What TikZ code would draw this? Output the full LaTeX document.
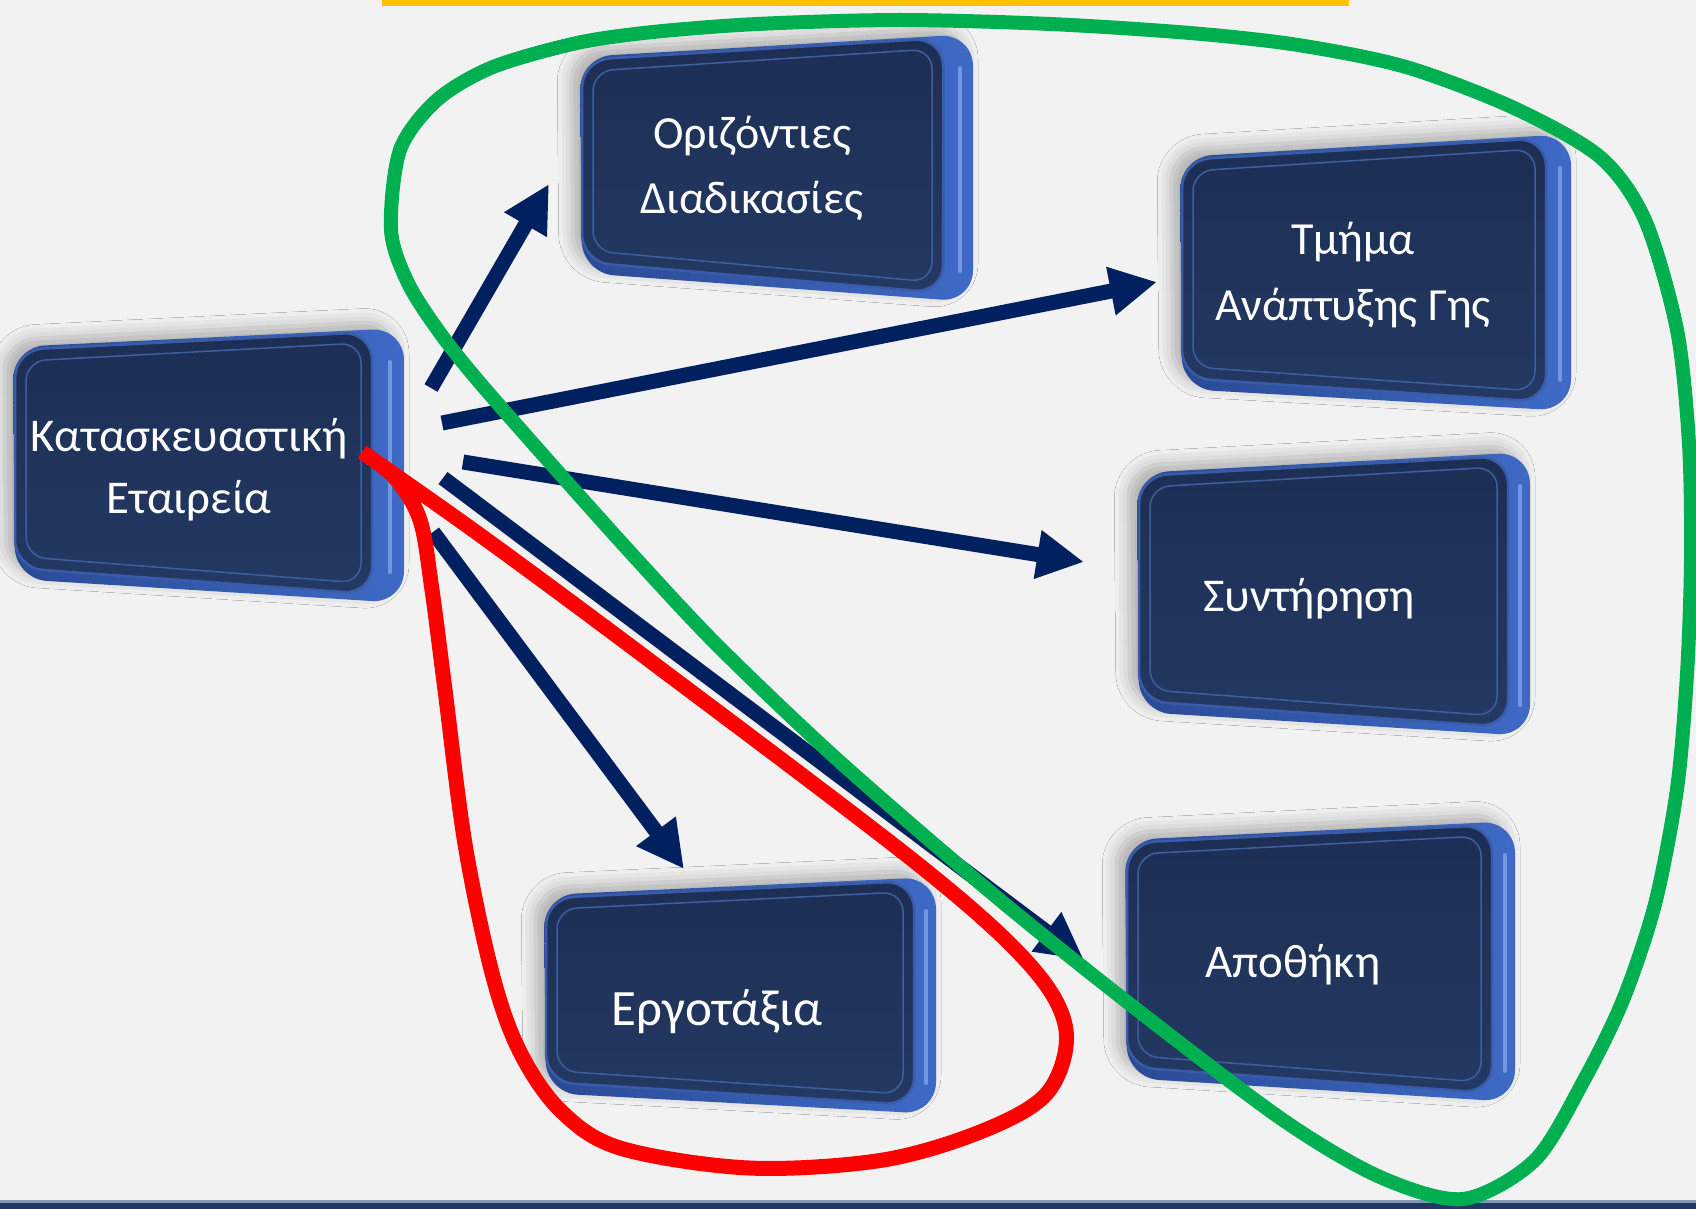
\documentclass[tikz,border=0pt]{standalone}
\usepackage{fontspec}
\setmainfont{Carlito}
\usetikzlibrary{arrows.meta,calc,shadows.blur}
\definecolor{bg}{HTML}{F2F2F2}
\definecolor{navy}{HTML}{002060}
\definecolor{facetop}{HTML}{1D2E54}
\definecolor{facebot}{HTML}{233963}
\definecolor{faceedge}{HTML}{3A5CA8}
\definecolor{innerln}{HTML}{3F5E9E}
\definecolor{extrl}{HTML}{2A4A95}
\definecolor{extrr}{HTML}{3E6AC6}
\definecolor{hilite}{HTML}{86A9EC}
\definecolor{gline}{HTML}{00B050}
\definecolor{rline}{HTML}{FF0000}
\definecolor{yline}{HTML}{FFC000}
\definecolor{bline}{HTML}{1F3864}
\definecolor{bline2}{HTML}{8497B0}
\tikzset{
  lbl/.style={text=white, align=center, inner sep=0pt},
  arr/.style={draw=navy, line width=15pt, -{Triangle[length=47pt,width=46pt]}},
  loopg/.style={draw=gline, line width=14pt, line join=round},
  loopr/.style={draw=rline, line width=15pt, line join=round},
}
\newcommand{\boxthreed}[6]{%
  \coordinate (#1tl) at #2;
  \coordinate (#1tr) at #3;
  \coordinate (#1br) at #4;
  \coordinate (#1bl) at #5;
  \shade[left color=extrl, right color=extrr, rounded corners=32pt,
    blur shadow={shadow xshift=-9pt, shadow yshift=7pt, shadow blur radius=14pt, shadow opacity=28}]
    ($(#1tl)+(-2,-3)$) -- ($(#1tr)+(#6,-4)$) -- ($(#1br)+(#6,9)$) -- ($(#1bl)+(0,11)$) -- cycle;
  \draw[hilite, line width=4pt, line cap=round, opacity=.75]
    ($(#1tr)+(0.55*#6,30)$) -- ($(#1br)+(0.55*#6,-22)$);
  \shade[top color=facetop, bottom color=facebot, rounded corners=28pt]
    (#1tl) -- (#1tr) -- (#1br) -- (#1bl) -- cycle;
  \draw[faceedge, line width=2.5pt, rounded corners=28pt]
    (#1tl) -- (#1tr) -- (#1br) -- (#1bl) -- cycle;
  \draw[innerln, line width=1.5pt, rounded corners=20pt]
    ($(#1tl)+(11,11)$) -- ($(#1tr)+(-11,11)$) -- ($(#1br)+(-11,-11)$) -- ($(#1bl)+(11,-11)$) -- cycle;
}
\begin{document}
\begin{tikzpicture}[x=1pt,y=-1pt]
\fill[bg] (0,0) rectangle (1696,1209);
\useasboundingbox (0,0) rectangle (1696,1209);
% top and bottom rules
\fill[yline] (382,0) rectangle (1349,6);
\fill[bline2] (0,1200) rectangle (1696,1203);
\fill[bline] (0,1203) rectangle (1696,1209);
% boxes
\boxthreed{A}{(15,350)}{(372,332)}{(372,594)}{(15,568)}{32}
\boxthreed{B}{(582,60)}{(943,38)}{(943,293)}{(582,262)}{30}
\boxthreed{C}{(1182,160)}{(1546,138)}{(1546,402)}{(1182,378)}{25}
\boxthreed{D}{(1139,476)}{(1508,456)}{(1508,727)}{(1139,701)}{22}
\boxthreed{E}{(1127,843)}{(1492,825)}{(1492,1093)}{(1127,1067)}{23}
\boxthreed{F}{(546,898)}{(914,881)}{(914,1105)}{(546,1082)}{22}
% labels
\node[lbl, font=\fontsize{47}{62}\selectfont] (ta) at (189,470) {Κατασκευαστική\\Εταιρεία};
\node[lbl, font=\fontsize{46}{65}\selectfont] (tb) at (752,168) {Οριζόντιες\\Διαδικασίες};
\node[lbl, font=\fontsize{46}{66}\selectfont] (tc) at (1353,275) {Τμήμα\\Ανάπτυξης Γης};
\node[lbl, font=\fontsize{47}{56}\selectfont, anchor=base] (td) at (1309,611) {Συντήρηση};
\node[lbl, font=\fontsize{47}{56}\selectfont, anchor=base] (te) at (1293,977) {Αποθήκη};
\node[lbl, font=\fontsize{51}{60}\selectfont, anchor=base] (tf) at (717,1025) {Εργοτάξια};
% arrow end points
\coordinate (a1s) at (431,388); \coordinate (a1e) at (549,184);
\coordinate (a2s) at (442,423); \coordinate (a2e) at (1157,282);
\coordinate (a3s) at (463,462); \coordinate (a3e) at (1084,562);
\coordinate (a4s) at (443,478); \coordinate (a4e) at (1084,960);
\coordinate (a5s) at (433,532); \coordinate (a5e) at (684,869);
\draw[arr] (a1s) -- (a1e);
\draw[arr] (a2s) -- (a2e);
\draw[arr] (a3s) -- (a3e);
\draw[arr] (a4s) -- (a4e);
\draw[arr] (a5s) -- (a5e);
% red loop
\draw[loopr] plot[smooth, tension=0.55] coordinates {
  (362,452) (480,535) (649,660) (919,865) (1030,965) (1066,1030)
  (1048,1092) (985,1130) (883,1160) (749,1168) (620,1148) (560,1110)
  (519,1050) (492,973) (465,844) (445,690) (432,590) (420,520) (395,478) (362,452)};
% green loop
\draw[loopg] plot[smooth cycle, tension=0.5] coordinates {
  (400,150) (437,100) (493,67) (577,43) (653,32) (757,24) (900,20)
  (1050,24) (1190,33) (1298,45) (1406,67) (1514,108) (1600,157)
  (1645,220) (1677,330) (1689,444) (1691,559) (1687,674) (1677,789)
  (1655,904) (1623,1000) (1584,1080) (1535,1160) (1463,1199) (1380,1177)
  (1283,1120) (1140,1012) (1000,900) (840,762) (720,648) (640,563)
  (560,474) (480,383) (440,333) (408,283) (391,230)};
\end{tikzpicture}
\end{document}
